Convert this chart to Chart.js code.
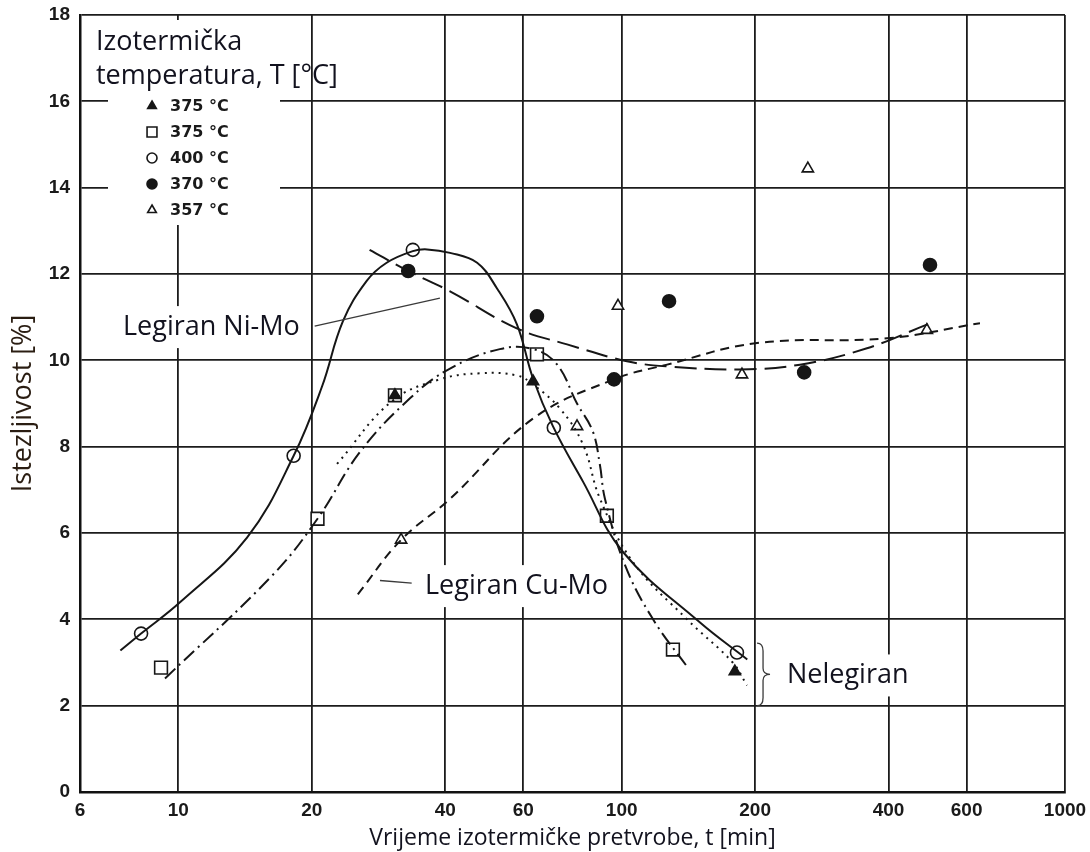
<!DOCTYPE html>
<html>
<head>
<meta charset="utf-8">
<script src="https://cdn.jsdelivr.net/npm/chart.js"></script>
<style>
  html, body { margin: 0; padding: 0; background: #fff; }
  canvas { display: block; }
</style>
</head>
<body>
<canvas id="chart" width="1090" height="852"></canvas>
<script>
// osi
const xTicks = [6, 10, 20, 40, 60, 100, 200, 400, 600, 1000];
const xTitle = 'Vrijeme izotermičke pretvrobe, t [min]';
const yTitle = 'Istezljivost [%]';

// izmjerene tocke (t [min], istezljivost [%])
const t375FilledX = [30.8, 63.1, 180];
const t375FilledY = [9.19, 9.51, 2.79];
const t375OpenX = [9.14, 20.6, 30.8, 64.4, 92.6, 130.5];
const t375OpenY = [2.88, 6.33, 9.19, 10.14, 6.40, 3.30];
const t400X = [8.24, 18.2, 33.8, 70.3, 182];
const t400Y = [3.67, 7.79, 12.56, 8.44, 3.23];
const t370X = [33.0, 64.4, 96.1, 127.9, 258, 496];
const t370Y = [12.07, 11.02, 9.56, 11.37, 9.72, 12.21];
const t357X = [31.8, 79.3, 98.1, 186.8, 263, 488];
const t357Y = [5.84, 8.47, 11.26, 9.67, 14.44, 10.70];

// krivulje ocitane sa slike
const solidX = [7.4, 8.24, 10.1, 14.3, 18.2, 21.1, 23.5, 26.6, 29.5, 33.8, 36.4, 41.0, 47.2, 52.3, 58.0, 63.1, 70.0, 81.8, 100.7, 150, 192];
const solidY = [3.28, 3.67, 4.4, 5.9, 7.79, 9.4, 10.9, 11.84, 12.26, 12.53, 12.57, 12.49, 12.26, 11.67, 10.84, 9.58, 8.47, 7.19, 5.56, 3.93, 3.07];
const dashDotX = [9.33, 16.3, 20.6, 25.7, 33.3, 41.0, 53.1, 63.1, 71.4, 79.3, 86.1, 89.3, 91.7, 101.7, 117.7, 141];
const dashDotY = [2.63, 5.02, 6.33, 7.88, 9.12, 9.81, 10.26, 10.26, 9.91, 9.0, 8.35, 7.58, 6.79, 5.26, 4.0, 2.88];
const dottedX = [22.8, 30.3, 38.9, 47.9, 58.0, 63.1, 72.6, 81.8, 89.3, 106, 140.4, 178, 191.7];
const dottedY = [7.6, 9.05, 9.56, 9.7, 9.65, 9.44, 8.88, 8.05, 6.8, 5.33, 4.0, 3.0, 2.47];
const niMoX = [27.0, 33.0, 41.0, 58.0, 75.3, 102.8, 126.6, 184.8, 252.5, 357.5, 490.9];
const niMoY = [12.56, 12.07, 11.6, 10.74, 10.37, 9.98, 9.86, 9.79, 9.9, 10.28, 10.84];
const cuMoX = [25.4, 31.8, 41.0, 63.1, 96.1, 126.6, 202, 396.7, 643];
const cuMoY = [4.58, 5.84, 6.79, 8.65, 9.56, 9.9, 10.4, 10.51, 10.86];

const legendTitle = ['Izotermička', 'temperatura, T [°C]'];

const INK = '#161616';
const TEXT = '#12121e';
const zip = (xs, ys) => xs.map((x, i) => ({ x, y: ys[i] }));

function curve(xs, ys, dash) {
    return {
        type: 'line',
        data: zip(xs, ys),
        borderColor: INK,
        borderWidth: 2,
        borderDash: dash,
        pointRadius: 0,
        fill: false,
        tension: 0.4,
        inLegend: false
    };
}

function markers(label, xs, ys, style, filled, radius) {
    return {
        type: 'scatter',
        label,
        data: zip(xs, ys),
        pointStyle: style,
        pointRadius: radius,
        pointBackgroundColor: filled ? INK : '#fff',
        pointBorderColor: INK,
        pointBorderWidth: 1.6,
        showLine: false,
        inLegend: true
    };
}

function drawMarker(ctx, ds, x, y, r) {
    const opts = { pointStyle: ds.pointStyle, rotation: 0, radius: r, borderWidth: ds.pointBorderWidth };
    ctx.save();
    ctx.fillStyle = ds.pointBackgroundColor;
    ctx.strokeStyle = ds.pointBorderColor;
    ctx.lineWidth = ds.pointBorderWidth;
    if (Chart.helpers && Chart.helpers.drawPoint) {
        Chart.helpers.drawPoint(ctx, opts, x, y);
    } else {
        ctx.beginPath();
        ctx.arc(x, y, r, 0, Math.PI * 2);
        ctx.fill();
        ctx.stroke();
    }
    ctx.restore();
}

// tekstovi na dijagramu (polozaj u jedinicama osi)
const notes = [
    { text: 'Legiran Ni-Mo', x: 7.5, y: 10.77, lead: [[20.3, 10.79], [38.9, 11.44]] },
    { text: 'Legiran Cu-Mo', x: 36.0, y: 4.77, lead: [[28.5, 4.9], [33.6, 4.84]] },
    { text: 'Nelegiran', x: 236, y: 2.7, lead: null }
];
const NOTE_FONT = '27px "Open Sans", "Noto Sans", sans-serif';

const annotationPlugin = {
    id: 'annotations',
    beforeDraw(chart) {
        const ctx = chart.ctx;
        ctx.save();
        ctx.fillStyle = '#fff';
        ctx.fillRect(0, 0, chart.width, chart.height);
        ctx.restore();
    },
    beforeDatasetsDraw(chart) {
        const { ctx, chartArea: ca, scales: { x, y } } = chart;
        ctx.save();
        ctx.fillStyle = '#fff';
        // legenda
        ctx.fillRect(ca.left + 28, ca.top + 5, 172, 205);
        // podloga natpisa
        ctx.font = NOTE_FONT;
        notes.forEach(n => {
            const px = x.getPixelForValue(n.x);
            const py = y.getPixelForValue(n.y);
            const w = ctx.measureText(n.text).width;
            ctx.fillRect(px - 5, py - 21, w + 10, 42);
        });
        ctx.restore();
    },
    afterDatasetsDraw(chart) {
        const { ctx, chartArea: ca, scales: { x, y } } = chart;
        ctx.save();

        // legenda
        ctx.fillStyle = TEXT;
        ctx.font = NOTE_FONT;
        ctx.textBaseline = 'alphabetic';
        ctx.textAlign = 'left';
        legendTitle.forEach((line, i) => ctx.fillText(line, ca.left + 16, ca.top + 35 + i * 34));

        const entries = chart.data.datasets.filter(ds => ds.inLegend);
        ctx.font = 'bold 16px "DejaVu Sans", sans-serif';
        ctx.textBaseline = 'middle';
        entries.forEach((ds, i) => {
            const ly = ca.top + 91 + i * 26;
            drawMarker(ctx, ds, ca.left + 72, ly, ds.pointStyle === 'rect' ? 7 : 5);
            ctx.fillStyle = '#1a1a1a';
            ctx.fillText(ds.label, ca.left + 90, ly + 1);
        });

        // natpisi i spojnice
        ctx.font = NOTE_FONT;
        ctx.fillStyle = TEXT;
        ctx.strokeStyle = '#3a3a3a';
        ctx.lineWidth = 1.3;
        notes.forEach(n => {
            ctx.fillText(n.text, x.getPixelForValue(n.x), y.getPixelForValue(n.y));
            if (n.lead) {
                ctx.beginPath();
                ctx.moveTo(x.getPixelForValue(n.lead[0][0]), y.getPixelForValue(n.lead[0][1]));
                ctx.lineTo(x.getPixelForValue(n.lead[1][0]), y.getPixelForValue(n.lead[1][1]));
                ctx.stroke();
            }
        });

        // viticasta zagrada kod "Nelegiran"
        const bx = x.getPixelForValue(202);
        const y1 = y.getPixelForValue(3.45);
        const y2 = y.getPixelForValue(2.0);
        const ym = (y1 + y2) / 2;
        ctx.beginPath();
        ctx.moveTo(bx, y1);
        ctx.quadraticCurveTo(bx + 6, y1, bx + 6, y1 + 8);
        ctx.lineTo(bx + 6, ym - 6);
        ctx.quadraticCurveTo(bx + 6, ym, bx + 13, ym);
        ctx.quadraticCurveTo(bx + 6, ym, bx + 6, ym + 6);
        ctx.lineTo(bx + 6, y2 - 8);
        ctx.quadraticCurveTo(bx + 6, y2, bx, y2);
        ctx.stroke();

        ctx.restore();
    }
};

const tickFont = { family: '"Liberation Sans", Arial, sans-serif', size: 19, weight: 'bold' };
const gridStyle = { color: '#1c1c1c', lineWidth: 1.8, drawTicks: false };

new Chart(document.getElementById('chart'), {
    type: 'scatter',
    data: {
        datasets: [
            curve(solidX, solidY, []),
            curve(dashDotX, dashDotY, [14, 5, 2, 5]),
            curve(dottedX, dottedY, [2, 5]),
            curve(niMoX, niMoY, [22, 8]),
            curve(cuMoX, cuMoY, [9, 6]),
            markers('375 °C', t375FilledX, t375FilledY, 'triangle', true, 6.5),
            markers('375 °C', t375OpenX, t375OpenY, 'rect', false, 9),
            markers('400 °C', t400X, t400Y, 'circle', false, 6.5),
            markers('370 °C', t370X, t370Y, 'circle', true, 6.5),
            markers('357 °C', t357X, t357Y, 'triangle', false, 6.5)
        ]
    },
    options: {
        responsive: false,
        animation: false,
        layout: { padding: { top: 15, right: 25, bottom: 0, left: 0 } },
        plugins: {
            legend: { display: false },
            tooltip: { enabled: false }
        },
        scales: {
            x: {
                type: 'logarithmic',
                position: 'bottom',
                min: 6,
                max: 1000,
                afterBuildTicks: s => { s.ticks = xTicks.map(v => ({ value: v })); },
                afterFit: s => { s.height = 60; s.paddingLeft = 0; s.paddingRight = 0; },
                ticks: {
                    autoSkip: false,
                    maxRotation: 0,
                    padding: 7,
                    color: '#1a1a1a',
                    font: tickFont,
                    callback: v => String(v)
                },
                grid: gridStyle,
                border: { color: '#111', width: 2.5 },
                title: {
                    display: true,
                    text: xTitle,
                    color: TEXT,
                    font: { family: '"Open Sans", "Noto Sans", sans-serif', size: 23 },
                    padding: { top: 0, bottom: 0 }
                }
            },
            y: {
                type: 'linear',
                min: 0,
                max: 18,
                afterFit: s => { s.width = 80; s.paddingTop = 0; s.paddingBottom = 0; },
                ticks: {
                    stepSize: 2,
                    padding: 10,
                    color: '#1a1a1a',
                    font: tickFont
                },
                grid: gridStyle,
                border: { color: '#111', width: 2.5 },
                title: {
                    display: true,
                    text: yTitle,
                    color: '#2a1d12',
                    font: { family: '"Open Sans", "Noto Sans", sans-serif', size: 27 },
                    padding: { top: 7, bottom: 0 }
                }
            }
        }
    },
    plugins: [annotationPlugin]
});
</script>
</body>
</html>
